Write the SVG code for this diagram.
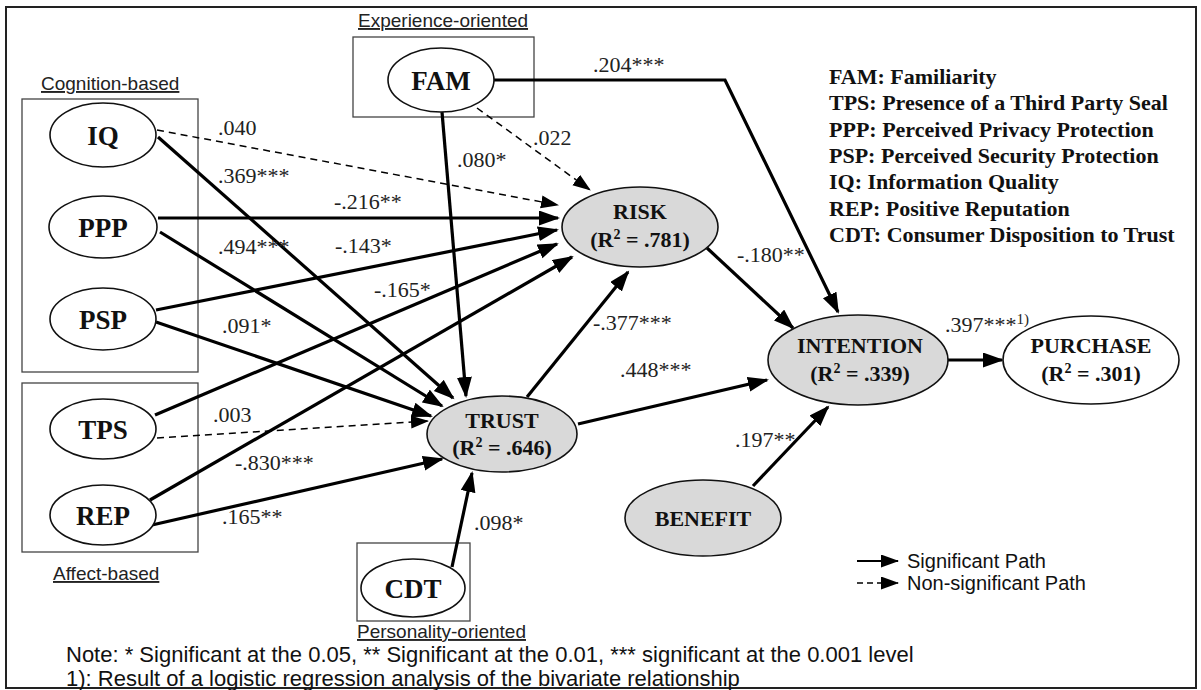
<svg xmlns="http://www.w3.org/2000/svg" width="1201" height="690" viewBox="0 0 1201 690">
<defs>
<style>
.frame{fill:#fff;stroke:#222;stroke-width:2}
.grp{fill:none;stroke:#444;stroke-width:1.3}
.ell{fill:#fff;stroke:#111;stroke-width:1.6}
.ellg{fill:#d9d9d9;stroke:#111;stroke-width:1.6}
.nl{font-family:"Liberation Serif","Times New Roman",serif;font-weight:bold;font-size:27px;fill:#111;text-anchor:middle}
.nl2{font-family:"Liberation Serif","Times New Roman",serif;font-weight:bold;font-size:22px;fill:#111;text-anchor:middle}
.el{font-family:"Liberation Serif","Times New Roman",serif;font-size:22px;fill:#222}
.gl{font-family:"Liberation Sans",Arial,sans-serif;font-size:19px;fill:#222;text-decoration:underline}
.note{font-family:"Liberation Sans",Arial,sans-serif;font-size:22px;fill:#111}
.leg{font-family:"Liberation Sans",Arial,sans-serif;font-size:20px;fill:#111}
.key{font-family:"Liberation Serif","Times New Roman",serif;font-weight:bold;font-size:22px;fill:#111}
.sol{fill:none;stroke:#000;stroke-width:3.2;marker-end:url(#ah)}
.dsh{fill:none;stroke:#000;stroke-width:1.5;stroke-dasharray:7 5;marker-end:url(#ahd)}
</style>
<marker id="ah" markerUnits="userSpaceOnUse" markerWidth="22" markerHeight="16" refX="19" refY="7.5" orient="auto">
<path d="M0,0 L21,7.5 L0,15 z" fill="#000"/>
</marker>
<marker id="ahd" markerUnits="userSpaceOnUse" markerWidth="20" markerHeight="14" refX="17" refY="6.5" orient="auto">
<path d="M0,0 L18,6.5 L0,13 z" fill="#000"/>
</marker>
</defs>
<rect class="frame" x="6" y="7" width="1190" height="681"/>

<g id="groups">
<rect class="grp" x="22" y="99" width="176" height="273"/>
<text class="gl" x="41" y="90">Cognition-based</text>
<rect class="grp" x="22" y="383" width="176" height="169"/>
<text class="gl" x="53" y="580">Affect-based</text>
<rect class="grp" x="353" y="37" width="181" height="80"/>
<text class="gl" x="358" y="27">Experience-oriented</text>
<rect class="grp" x="357" y="543" width="113" height="78"/>
<text class="gl" x="357" y="638">Personality-oriented</text>
</g>

<g id="connectors">
<path class="dsh" d="M157,130 L558,205"/>
<path class="sol" d="M158,137 L453,398"/>
<path class="sol" d="M158,218 L558,218"/>
<path class="sol" d="M160,232 L442,406"/>
<path class="sol" d="M156,310 L557,230"/>
<path class="sol" d="M156,322 L431,416"/>
<path class="sol" d="M155,415 L557,244"/>
<path class="dsh" d="M157,438 L428,421"/>
<path class="sol" d="M150,500 L572,257"/>
<path class="sol" d="M152,525 L442,459"/>
<path class="dsh" d="M477,108 L590,190"/>
<path class="sol" d="M442,112 L466,396"/>
<path class="sol" d="M494,80 L725,80 L838,312"/>
<path class="sol" d="M452,567 L472,473"/>
<path class="sol" d="M527,397 L628,272"/>
<path class="sol" d="M578,424 L767,380"/>
<path class="sol" d="M707,248 L793,328"/>
<path class="sol" d="M753,486 L828,407"/>
<path class="sol" d="M948,360 L1002,360"/>
</g>

<g id="edge-labels">
<text class="el" x="218" y="135">.040</text>
<text class="el" x="218" y="183">.369***</text>
<text class="el" x="334" y="209">-.216**</text>
<text class="el" x="218" y="254">.494***</text>
<text class="el" x="335" y="253">-.143*</text>
<text class="el" x="374" y="297">-.165*</text>
<text class="el" x="222" y="333">.091*</text>
<text class="el" x="213" y="422">.003</text>
<text class="el" x="235" y="470">-.830***</text>
<text class="el" x="222" y="524">.165**</text>
<text class="el" x="457" y="167">.080*</text>
<text class="el" x="533" y="145">.022</text>
<text class="el" x="593" y="72">.204***</text>
<text class="el" x="737" y="262">-.180**</text>
<text class="el" x="593" y="330">-.377***</text>
<text class="el" x="620" y="377">.448***</text>
<text class="el" x="735" y="447">.197**</text>
<text class="el" x="474" y="530">.098*</text>
<text class="el" x="945" y="332">.397***<tspan dy="-8" font-size="15">1)</tspan></text>
</g>

<g id="node-IQ"><ellipse class="ell" cx="103" cy="135" rx="53" ry="32"/><text class="nl" x="103" y="145">IQ</text></g>
<g id="node-PPP"><ellipse class="ell" cx="103" cy="227" rx="54" ry="31"/><text class="nl" x="103" y="237">PPP</text></g>
<g id="node-PSP"><ellipse class="ell" cx="103" cy="319" rx="53" ry="31"/><text class="nl" x="103" y="329">PSP</text></g>
<g id="node-TPS"><ellipse class="ell" cx="103" cy="429" rx="53" ry="30"/><text class="nl" x="103" y="439">TPS</text></g>
<g id="node-REP"><ellipse class="ell" cx="103" cy="515" rx="53" ry="30"/><text class="nl" x="103" y="525">REP</text></g>
<g id="node-FAM"><ellipse class="ell" cx="441" cy="80" rx="53" ry="32"/><text class="nl" x="441" y="90">FAM</text></g>
<g id="node-CDT"><ellipse class="ell" cx="413" cy="588" rx="52" ry="29"/><text class="nl" x="413" y="598">CDT</text></g>
<g id="node-RISK"><ellipse class="ellg" cx="640" cy="227" rx="78" ry="40"/><text class="nl2" x="640" y="219">RISK</text><text class="nl2" x="640" y="247">(R<tspan dy="-8" font-size="14">2</tspan><tspan dy="8"> = .781)</tspan></text></g>
<g id="node-TRUST"><ellipse class="ellg" cx="502" cy="434" rx="75" ry="38"/><text class="nl2" x="502" y="428">TRUST</text><text class="nl2" x="502" y="455">(R<tspan dy="-8" font-size="14">2</tspan><tspan dy="8"> = .646)</tspan></text></g>
<g id="node-INTENTION"><ellipse class="ellg" cx="858" cy="360" rx="90" ry="45"/><text class="nl2" x="860" y="353">INTENTION</text><text class="nl2" x="860" y="381">(R<tspan dy="-8" font-size="14">2</tspan><tspan dy="8"> = .339)</tspan></text></g>
<g id="node-PURCHASE"><ellipse class="ell" cx="1091" cy="360" rx="88" ry="44"/><text class="nl2" x="1091" y="353">PURCHASE</text><text class="nl2" x="1091" y="381">(R<tspan dy="-8" font-size="14">2</tspan><tspan dy="8"> = .301)</tspan></text></g>
<g id="node-BENEFIT"><ellipse class="ellg" cx="703" cy="518" rx="78" ry="38"/><text class="nl2" x="703" y="526">BENEFIT</text></g>

<g id="key">
<text class="key" x="829" y="84">FAM: Familiarity</text>
<text class="key" x="829" y="110">TPS: Presence of a Third Party Seal</text>
<text class="key" x="829" y="137">PPP: Perceived Privacy Protection</text>
<text class="key" x="829" y="163">PSP: Perceived Security Protection</text>
<text class="key" x="829" y="189">IQ: Information Quality</text>
<text class="key" x="829" y="216">REP: Positive Reputation</text>
<text class="key" x="829" y="242">CDT: Consumer Disposition to Trust</text>
</g>

<g id="legend">
<path d="M857,561 L898,561" fill="none" stroke="#000" stroke-width="2" marker-end="url(#ahd)"/>
<path d="M857,583 L898,583" fill="none" stroke="#000" stroke-width="1.5" stroke-dasharray="6 4" marker-end="url(#ahd)"/>
<text class="leg" x="907" y="568">Significant Path</text>
<text class="leg" x="907" y="590">Non-significant Path</text>
</g>

<g id="note">
<text class="note" x="66" y="662">Note: * Significant at the 0.05, ** Significant at the 0.01, *** significant at the 0.001 level</text>
<text class="note" x="66" y="686">1): Result of a logistic  regression analysis of the bivariate relationship</text>
</g>
</svg>
